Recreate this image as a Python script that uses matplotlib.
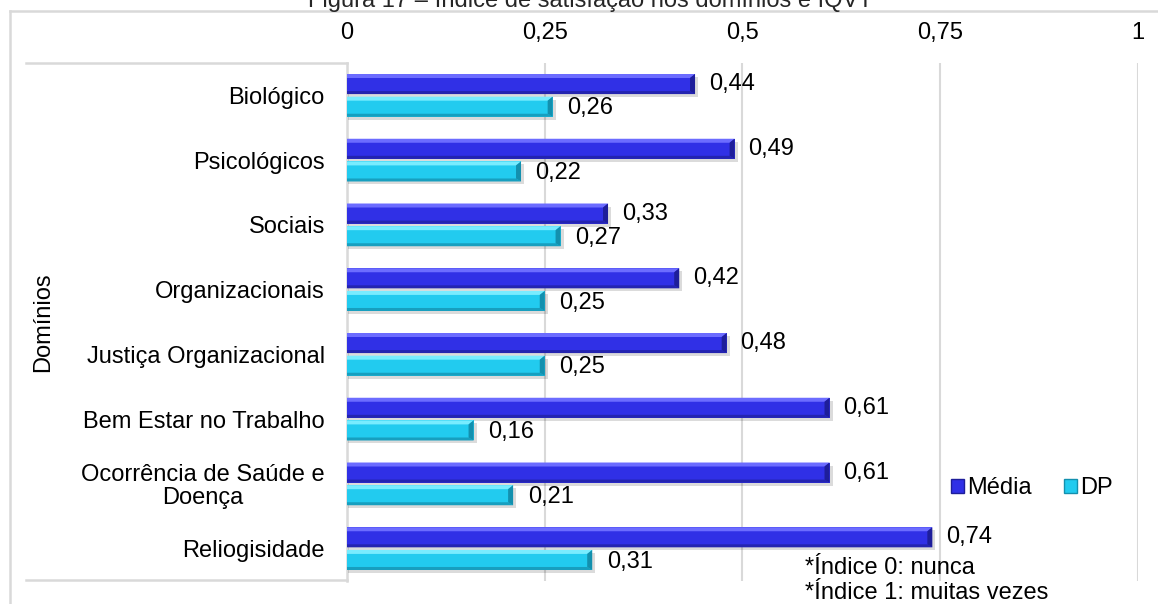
import matplotlib
matplotlib.use("Agg")
import matplotlib.pyplot as plt
from matplotlib.lines import Line2D
from matplotlib.patches import Patch, Polygon, Rectangle

plt.rcParams['font.family'] = ['Liberation Sans', 'DejaVu Sans']

# Data
categories = ['Biológico', 'Psicológicos', 'Sociais', 'Organizacionais',
              'Justiça Organizacional', 'Bem Estar no Trabalho',
              'Ocorrência de Saúde e\nDoença', 'Reliogisidade']
media = [0.44, 0.49, 0.33, 0.42, 0.48, 0.61, 0.61, 0.74]
dp = [0.26, 0.22, 0.27, 0.25, 0.25, 0.16, 0.21, 0.31]
x_ticks = [0, 0.25, 0.5, 0.75, 1]
x_tick_labels = ['0', '0,25', '0,5', '0,75', '1']
series_names = ['Média', 'DP']
title = 'Figura 17 – Índice de satisfação nos domínios e IQVT'
notes = ['*Índice 0: nunca', '*Índice 1: muitas vezes']

# Styles: (base, light top bevel, dark bottom bevel, end bevel)
STYLE_MEDIA = ('#3030e6', '#6c6cff', '#2424b0', '#1e1e9a')
STYLE_DP = ('#22cbef', '#78ecff', '#179fbf', '#1390ae')
GRID = '#d9d9d9'
FS = 17

W, H = 1158, 604
fig = plt.figure(figsize=(W / 100, H / 100), dpi=100)

ax_left, ax_right, ax_top, ax_bot = 347, 1138, 63, 581
ax = fig.add_axes([ax_left / W, 1 - ax_bot / H,
                   (ax_right - ax_left) / W, (ax_bot - ax_top) / H])

n = len(categories)
pos = list(range(n))
bar_h = 0.31
off = 0.175

ax.set_xlim(0, 1)
ax.set_ylim(n - 0.5, -0.5)

bars_m = ax.barh([p - off for p in pos], media, height=bar_h,
                 color=STYLE_MEDIA[0], zorder=3)
bars_d = ax.barh([p + off for p in pos], dp, height=bar_h,
                 color=STYLE_DP[0], zorder=3)

# pixel -> data conversions for the bevel and shadow sizes
px_x = 1.0 / (ax_right - ax_left)
px_y = n / (ax_bot - ax_top)


def bevel(patch, style):
    base, light, dark, end = style
    x0 = patch.get_x()
    x1 = x0 + patch.get_width()
    yt = patch.get_y()                 # visual top (axis inverted)
    yb = yt + patch.get_height()       # visual bottom
    bx = 5 * px_x
    byt = 4 * px_y
    byb = 3 * px_y
    # soft shadow
    ax.add_patch(Rectangle((x0 + 1 * px_x, yt + 3 * px_y), x1 - x0 + 2 * px_x,
                           yb - yt, color='#000000', alpha=0.14, lw=0,
                           zorder=2))
    ax.add_patch(Polygon([(x0, yt), (x1, yt), (x1 - bx, yt + byt), (x0, yt + byt)],
                         closed=True, color=light, lw=0, zorder=4))
    ax.add_patch(Polygon([(x0, yb), (x1, yb), (x1 - bx, yb - byb), (x0, yb - byb)],
                         closed=True, color=dark, lw=0, zorder=4))
    ax.add_patch(Polygon([(x1, yt), (x1, yb), (x1 - bx, yb - byb), (x1 - bx, yt + byt)],
                         closed=True, color=end, lw=0, zorder=4))


for p in bars_m:
    bevel(p, STYLE_MEDIA)
for p in bars_d:
    bevel(p, STYLE_DP)


def fmt(v):
    return f'{v:.2f}'.replace('.', ',')


for p, v in zip(bars_m, media):
    ax.annotate(fmt(v), (v, p.get_y() + p.get_height() / 2),
                xytext=(10, 0), textcoords='offset points',
                ha='left', va='center', fontsize=FS, zorder=5)
for p, v in zip(bars_d, dp):
    ax.annotate(fmt(v), (v, p.get_y() + p.get_height() / 2),
                xytext=(10.5, -1.2), textcoords='offset points',
                ha='left', va='center', fontsize=FS, zorder=5)

# Axes styling
ax.xaxis.tick_top()
ax.set_xticks(x_ticks)
ax.set_xticklabels(x_tick_labels, fontsize=FS)
ax.tick_params(axis='x', length=0, pad=13.5)
ax.set_yticks(pos)
ax.set_yticklabels(categories, fontsize=FS)
for lbl in ax.get_yticklabels():
    lbl.set_multialignment('center')
    lbl.set_linespacing(1.05)
ax.tick_params(axis='y', length=0, pad=16)
ax.grid(axis='x', color=GRID, lw=1.5, zorder=0)
ax.set_axisbelow(True)
for s in ['top', 'right', 'bottom']:
    ax.spines[s].set_visible(False)
ax.spines['left'].set_color(GRID)
ax.spines['left'].set_linewidth(1.8)
ax.spines['left'].set_zorder(1)

# Outer frame and category box
def fline(x0, y0, x1, y1):
    fig.add_artist(Line2D([x0 / W, x1 / W], [1 - y0 / H, 1 - y1 / H],
                          color=GRID, lw=1.8, transform=fig.transFigure))

fline(10, 11, W, 11)
fline(10, 11, 10, H)
fline(26, ax_top, ax_left, ax_top)
fline(26, ax_bot - 1, ax_left, ax_bot - 1)

# Title (top of the figure)
fig.text(590 / W, 1 - 7 / H, title, ha='center', va='baseline',
         fontsize=FS, color='#262626')

# Axis title
fig.text(43 / W, 1 - 322 / H, 'Domínios', rotation=90, ha='center',
         va='center', fontsize=FS)

# Legend
handles = [Patch(facecolor=STYLE_MEDIA[0], edgecolor=STYLE_MEDIA[3], lw=1),
           Patch(facecolor=STYLE_DP[0], edgecolor=STYLE_DP[3], lw=1)]
fig.legend(handles, series_names, loc='center left',
           bbox_to_anchor=(951 / W, 1 - 488 / H), ncol=2, frameon=False,
           fontsize=FS, handlelength=0.55, handleheight=0.55,
           handletextpad=0.15, columnspacing=1.35, borderpad=0,
           borderaxespad=0)

# Notes
for i, t in enumerate(notes):
    fig.text(805 / W, 1 - (568 + 25 * i) / H, t, ha='left', va='center',
             fontsize=FS)

fig.savefig('out.png', dpi=100)
